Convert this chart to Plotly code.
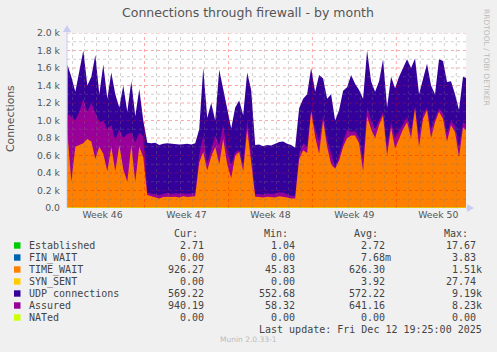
import pandas as pd
import plotly.graph_objects as go

# ---------------- data ----------------
start_time = "2025-11-10 13:30"
step_hours = 8

time_wait = [880, 300, 700, 720, 740, 790, 760, 560, 700, 620,
             420, 700, 420, 720, 440, 300, 720, 300, 700, 580,
             150, 135, 120, 110, 125, 130, 125, 130, 120, 135,
             125, 130, 135, 520, 640, 430, 590, 700, 500, 790,
             500, 340, 600, 640, 420, 900, 490, 130, 125, 120,
             130, 125, 120, 135, 130, 120, 110, 110, 560, 660,
             630, 1100, 815, 620, 1000, 700, 500, 450, 540, 700,
             800, 830, 830, 740, 420, 1050, 900, 800, 950, 1060,
             600, 920, 680, 800, 900, 980, 800, 1140, 700, 1020,
             1120, 800, 980, 1100, 1020, 760, 950, 870, 580, 920,
             880]

assured_top = [1080, 1050, 1000, 1100, 1250, 1100, 1200, 1100, 980, 1000,
               900, 950, 780, 900, 800, 850, 860, 750, 860, 820,
               175, 165, 160, 150, 160, 175, 160, 170, 165, 170,
               160, 165, 175, 600, 830, 510, 660, 830, 720, 950,
               650, 490, 640, 660, 500, 1000, 640, 160, 160, 155,
               170, 160, 165, 180, 175, 155, 140, 140, 620, 740,
               700, 1130, 900, 760, 1060, 780, 620, 470, 600, 760,
               900, 870, 880, 800, 560, 1150, 1000, 900, 1000, 1100,
               700, 980, 800, 880, 960, 1040, 880, 1160, 820, 1080,
               1150, 900, 1030, 1140, 1080, 850, 1000, 940, 700, 980,
               950]

udp_top = [1640, 1500, 1330, 1550, 1800, 1400, 1500, 1750, 1300, 1640,
           1250, 1550, 1300, 1150, 1400, 1100, 1450, 1050, 1360, 1000,
           745, 740, 745, 720, 735, 740, 735, 730, 725, 730,
           735, 725, 740, 900, 1600, 1030, 1200, 1000, 1580, 1360,
           1150, 910, 1150, 1230, 1060, 1550, 1350, 720, 725, 705,
           720, 715, 735, 755, 760, 735, 720, 690, 1140, 1250,
           1300, 1600, 1330, 1520, 1480, 1250, 1300, 1000, 1120, 1340,
           1380, 1520, 1420, 1350, 1250, 1800, 1450, 1330, 1450, 1700,
           1150, 1500, 1370, 1500, 1600, 1700, 1600, 1710, 1300, 1480,
           1650, 1400, 1300, 1700, 1680, 1440, 1450, 1300, 1120, 1500,
           1480]

legend_names = ["Established", "FIN_WAIT", "TIME_WAIT", "SYN_SENT",
                "UDP connections", "Assured", "NATed"]
legend_colors = ["#00CC00", "#0066B3", "#FF8000", "#FFCC00",
                 "#330099", "#990099", "#CCFF00"]
cur_vals = ["2.71", "0.00", "926.27", "0.00", "569.22", "940.19", "0.00"]
min_vals = ["1.04", "0.00", "45.83", "0.00", "552.68", "58.32", "0.00"]
avg_vals = ["2.72", "7.68m", "626.30", "3.92", "572.22", "641.16", "0.00"]
max_vals = ["17.67", "3.83", "1.51k", "27.74", "9.19k", "8.23k", "0.00"]

week_labels = ["Week 46", "Week 47", "Week 48", "Week 49", "Week 50"]
week_starts = ["2025-11-10", "2025-11-17", "2025-11-24", "2025-12-01", "2025-12-08"]
y_ticks = [0, 200, 400, 600, 800, 1000, 1200, 1400, 1600, 1800, 2000]
y_ticktext = ["0.0", "0.2 k", "0.4 k", "0.6 k", "0.8 k", "1.0 k",
              "1.2 k", "1.4 k", "1.6 k", "1.8 k", "2.0 k"]

title_text = "Connections through firewall - by month"
last_update = "Last update: Fri Dec 12 19:25:00 2025"

# ---------------- layout geometry ----------------
W, H = 497, 352
L, R, T, B = 67, 31, 33, 144
PW, PH = W - L - R, H - T - B

def px(x):
    return (x - L) / PW

def py(y):
    return (H - B - y) / PH

times = pd.date_range(start_time, periods=len(time_wait), freq=f"{step_hours}h")
x_start = pd.Timestamp(start_time) - pd.Timedelta(minutes=40)
x_end = pd.Timestamp(start_time) + pd.Timedelta(hours=798)

fig = go.Figure()
fig.add_trace(go.Scatter(x=times, y=udp_top, mode="lines", line=dict(width=0),
                         fill="tozeroy", fillcolor="#330099", hoverinfo="skip"))
fig.add_trace(go.Scatter(x=times, y=assured_top, mode="lines", line=dict(width=0),
                         fill="tozeroy", fillcolor="#990099", hoverinfo="skip"))
fig.add_trace(go.Scatter(x=times, y=time_wait, mode="lines", line=dict(width=0),
                         fill="tozeroy", fillcolor="#FF8000", hoverinfo="skip"))

shapes = []
# minor vertical grid (daily)
days = pd.date_range("2025-11-11", "2025-12-13", freq="1D")
for d in days:
    if d >= x_start and d <= x_end and d.weekday() != 0:
        shapes.append(dict(type="line", xref="x", yref="paper", x0=d, x1=d, y0=0, y1=1,
                           line=dict(color="rgba(120,120,120,0.35)", width=1, dash="dot"),
                           layer="above"))
# minor horizontal grid
for v in range(100, 2000, 200):
    shapes.append(dict(type="line", xref="paper", yref="y", x0=0, x1=1, y0=v, y1=v,
                       line=dict(color="rgba(120,120,120,0.35)", width=1, dash="dot"),
                       layer="above"))
# major grid
for ws in week_starts[1:]:
    shapes.append(dict(type="line", xref="x", yref="paper", x0=ws, x1=ws, y0=0, y1=1,
                       line=dict(color="rgba(255,0,0,0.35)", width=1, dash="dot"),
                       layer="above"))
for v in y_ticks[1:]:
    shapes.append(dict(type="line", xref="paper", yref="y", x0=0, x1=1, y0=v, y1=v,
                       line=dict(color="rgba(255,0,0,0.35)", width=1, dash="dot"),
                       layer="above"))
# baseline (NATed at 0) and axes
shapes.append(dict(type="line", xref="paper", yref="y", x0=0, x1=1, y0=0, y1=0,
                   line=dict(color="#CCFF00", width=1), layer="above"))
shapes.append(dict(type="line", xref="paper", yref="paper", x0=0, x1=0, y0=0, y1=1.03,
                   line=dict(color="#C8CCF0", width=1), layer="above"))
shapes.append(dict(type="line", xref="paper", yref="paper", x0=1, x1=1.01, y0=0, y1=0,
                   line=dict(color="#C8CCF0", width=1), layer="above"))
shapes.append(dict(type="path", xref="paper", yref="paper",
                   path=f"M {px(63)} {py(32)} L {px(71)} {py(32)} L {px(67)} {py(25)} Z",
                   fillcolor="#C8CCF0", line=dict(width=0)))
shapes.append(dict(type="path", xref="paper", yref="paper",
                   path=f"M {px(467)} {py(204)} L {px(467)} {py(212)} L {px(474)} {py(208)} Z",
                   fillcolor="#C8CCF0", line=dict(width=0)))

annotations = []
font_sans = "DejaVu Sans"
font_mono = "DejaVu Sans Mono"
annotations.append(dict(text=title_text, x=px(248), y=py(13), xref="paper", yref="paper",
                        showarrow=False, xanchor="center", yanchor="middle",
                        font=dict(family=font_sans, size=12.5, color="#555555")))
annotations.append(dict(text="Connections", x=px(10), y=py(119), xref="paper", yref="paper",
                        showarrow=False, textangle=-90, xanchor="center", yanchor="middle",
                        font=dict(family=font_sans, size=10.8, color="#555555")))
annotations.append(dict(text="RRDTOOL / TOBI OETIKER", x=px(487), y=py(57), xref="paper",
                        yref="paper", showarrow=False, textangle=90, xanchor="center",
                        yanchor="middle", font=dict(family=font_sans, size=7.5, color="#BBBBBB")))
annotations.append(dict(text="Munin 2.0.33-1", x=px(248), y=py(339), xref="paper", yref="paper",
                        showarrow=False, xanchor="center", yanchor="middle",
                        font=dict(family=font_sans, size=7.5, color="#BBBBBB")))

# legend table
leg_font = dict(family=font_mono, size=10, color="#444444")
headers = ["Cur:", "Min:", "Avg:", "Max:"]
header_right = [200, 290, 380, 470]
col_right = [212, 303, 393, 484]
for h, xr in zip(headers, header_right):
    annotations.append(dict(text=h, x=px(xr), y=py(233.5), xref="paper", yref="paper",
                            showarrow=False, xanchor="right", yanchor="middle", font=leg_font))

def fmt(s):
    return s if s[-1].isalpha() else s + "\u00a0"

for i, name in enumerate(legend_names):
    yy = 245.5 + 12 * i
    shapes.append(dict(type="rect", xref="paper", yref="paper",
                       x0=px(14), x1=px(20.5), y0=py(yy - 3.2), y1=py(yy + 3.2),
                       fillcolor=legend_colors[i], line=dict(width=0)))
    annotations.append(dict(text=name, x=px(26.5), y=py(yy), xref="paper", yref="paper",
                            showarrow=False, xanchor="left", yanchor="middle", font=leg_font))
    for col, xr in zip([cur_vals, min_vals, avg_vals, max_vals], col_right):
        annotations.append(dict(text=fmt(col[i]), x=px(xr), y=py(yy), xref="paper",
                                yref="paper", showarrow=False, xanchor="right",
                                yanchor="middle", font=leg_font))
annotations.append(dict(text=last_update, x=px(484), y=py(329.5), xref="paper", yref="paper",
                        showarrow=False, xanchor="right", yanchor="middle", font=leg_font))

week_centers = [pd.Timestamp(ws) + pd.Timedelta(hours=84) for ws in week_starts]

fig.update_layout(
    width=W, height=H,
    margin=dict(l=L, r=R, t=T, b=B, pad=0),
    paper_bgcolor="#F0F0F0", plot_bgcolor="#FFFFFF",
    showlegend=False,
    shapes=shapes, annotations=annotations,
    xaxis=dict(type="date", range=[x_start, x_end], showgrid=False, zeroline=False,
               tickmode="array", tickvals=week_centers, ticktext=week_labels,
               ticks="", tickfont=dict(family=font_sans, size=9.3, color="#555555"),
               fixedrange=True),
    yaxis=dict(range=[0, 2000], showgrid=False, zeroline=False, tickmode="array",
               tickvals=y_ticks, ticktext=y_ticktext, ticks="",
               ticklabelstandoff=6,
               tickfont=dict(family=font_sans, size=9.3, color="#555555"), fixedrange=True),
)

fig.write_html("out.html")
